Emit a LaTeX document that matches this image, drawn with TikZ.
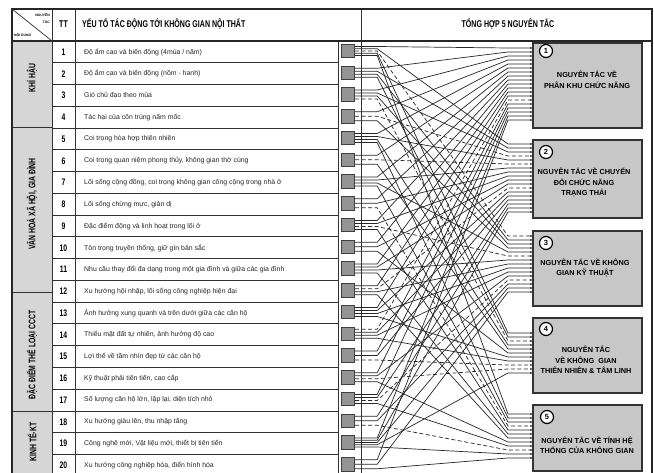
\documentclass[tikz,border=0pt]{standalone}
\usepackage{fontspec}
\setmainfont{Liberation Sans}
\newfontfamily\cond[FakeStretch=0.72]{Liberation Sans}
\usetikzlibrary{arrows.meta,calc}
\newcounter{bx1}\newcounter{bx2}\newcounter{bx3}\newcounter{bx4}\newcounter{bx5}
\begin{document}
\begin{tikzpicture}[x=1pt,y=-1pt,
  tblframe/.style={line width=1.1pt, draw=black!85},
  gridl/.style={line width=0.75pt, draw=black!80},
  rowtxt/.style={anchor=west, inner sep=0pt, text=black!85, font=\fontsize{6.9}{7.5}\selectfont},
  numtxt/.style={inner sep=0pt, font=\cond\bfseries\fontsize{9.5}{10}\selectfont},
  grplbl/.style={inner sep=0pt, rotate=90, font=\cond\bfseries\fontsize{9.5}{10}\selectfont},
  hdr/.style={inner sep=0pt, font=\cond\bfseries\fontsize{9.8}{10}\selectfont},
  tinytxt/.style={inner sep=0pt, font=\bfseries\fontsize{3.4}{4}\selectfont},
  sqbox/.style={draw=black!75, fill=black!42, line width=0.9pt, minimum size=13.5pt, inner sep=0pt},
  pbox/.style={draw=black!80, fill=black!22, line width=1.2pt, inner sep=0pt, outer sep=0pt},
  circ/.style={circle, draw=black, fill=white, line width=1.2pt, minimum size=13pt, inner sep=0pt, font=\bfseries\fontsize{7.5}{8}\selectfont},
  ptxt/.style={align=center, inner sep=0pt, font=\bfseries\fontsize{7.3}{10.5}\selectfont},
  conn/.style={line width=0.7pt, draw=black!85, -{Latex[length=2.6pt,width=2pt]}},
  dsh/.style={dash pattern=on 4pt off 2.5pt}
]
\useasboundingbox (0,0) rectangle (654,473);
\clip (0,0) rectangle (654,473);
\fill[white] (0,0) rectangle (654,473);

% group column fill
\fill[black!16] (12,41) rectangle (52,480);

% table grid
\foreach \kk in {1,...,19} {
  \draw[gridl] (52,{41.125+21.75*\kk}) -- (338,{41.125+21.75*\kk});
}
\draw[gridl] (12,127) -- (52,127);
\draw[gridl] (12,292) -- (52,292);
\draw[gridl] (12,411) -- (52,411);
\draw[gridl] (52,9) -- (52,480);
\draw[gridl] (75,9) -- (75,480);
\draw[gridl] (338,41) -- (338,480);
\draw[gridl] (361,9) -- (361,480);
\draw[tblframe] (12,41) -- (652,41);
\draw[tblframe] (12,480) -- (12,9) -- (652,9) -- (652,480);
\draw[gridl] (12,9) -- (52,41);

% header texts
\node[tinytxt, anchor=east] (hn1) at (50,14.5) {NGUYÊN};
\node[tinytxt, anchor=east] (hn2) at (50,22) {TẮC};
\node[tinytxt, anchor=west] (hn3) at (14,35) {NỘI DUNG};
\node[hdr] (htt) at (63.5,24) {TT};
\node[hdr, anchor=west] (hyt) at (82,24) {YẾU TỐ TÁC ĐỘNG TỚI KHÔNG GIAN NỘI THẤT};
\node[hdr] (hth) at (508,24) {TỔNG HỢP 5 NGUYÊN TẮC};

% group labels
\node[grplbl] (g1) at (32,78) {KHÍ HẬU};
\node[grplbl] (g2) at (32,204) {VĂN HOÁ XÃ HỘI, GIA ĐÌNH};
\node[grplbl] (g3) at (32,355) {ĐẶC ĐIỂM THỂ LOẠI CCCT};
\node[grplbl] (g4) at (32,442) {KINH TẾ-KT};

% rows
\foreach \ri/\rtxt in {
  1/{Độ ẩm cao và biến động (4mùa / năm)},
  2/{Độ ẩm cao và biến động (nồm - hanh)},
  3/{Gió chủ đạo theo mùa},
  4/{Tác hại của côn trùng nấm mốc},
  5/{Coi trọng hòa hợp thiên nhiên},
  6/{Coi trọng quan niệm phong thủy, không gian thờ cúng},
  7/{Lối sống cộng đồng, coi trọng không gian công cộng trong nhà ở},
  8/{Lối sống chừng mực, giản dị},
  9/{Đặc điểm động và linh hoạt trong lối ở},
  10/{Tôn trọng truyền thống, giữ gìn bản sắc},
  11/{Nhu cầu thay đổi đa dạng trong một gia đình và giữa các gia đình},
  12/{Xu hướng hội nhập, lối sống công nghiệp hiện đại},
  13/{Ảnh hưởng xung quanh và trên dưới giữa các căn hộ},
  14/{Thiếu mặt đất tự nhiên, ảnh hưởng độ cao},
  15/{Lợi thế về tầm nhìn đẹp từ các căn hộ},
  16/{Kỹ thuật phải tiên tiến, cao cấp},
  17/{Số lượng căn hộ lớn, lặp lại, diện tích nhỏ},
  18/{Xu hướng giàu lên, thu nhập tăng},
  19/{Công nghệ mới, Vật liệu mới, thiết bị tiên tiến},
  20/{Xu hướng công nghiệp hóa, điển hình hóa}} {
  \pgfmathsetmacro\yy{52+21.75*(\ri-1)}
  \node[numtxt] (n\ri) at (63.5,\yy) {\ri};
  \node[rowtxt] (r\ri) at (84,\yy) {\rtxt};
  \node[sqbox] (s\ri) at (348,\yy-1) {};
}

% principle boxes
\node[pbox, minimum width=109pt, minimum height=85pt, anchor=north west] (p1) at (533,43) {};
\node[pbox, minimum width=109pt, minimum height=78pt, anchor=north west] (p2) at (533,140) {};
\node[pbox, minimum width=109pt, minimum height=75pt, anchor=north west] (p3) at (533,231) {};
\node[pbox, minimum width=109pt, minimum height=75pt, anchor=north west] (p4) at (533,318) {};
\node[pbox, minimum width=109pt, minimum height=66pt, anchor=north west] (p5) at (533,405) {};

\node[circ] (c1) at ($(p1.north west)+(13,8)$) {1};
\node[circ] (c2) at ($(p2.north west)+(13,12)$) {2};
\node[circ] (c3) at ($(p3.north west)+(13,12)$) {3};
\node[circ] (c4) at ($(p4.north west)+(13,11)$) {4};
\node[circ] (c5) at ($(p5.north west)+(14,12)$) {5};

\node[ptxt] (t1) at (587,80) {NGUYÊN TẮC VỀ\\PHÂN KHU CHỨC NĂNG};
\node[ptxt] (t2) at (584,182.5) {NGUYÊN TẮC VỀ CHUYỂN\\ĐỔI CHỨC NĂNG\\TRẠNG THÁI};
\node[ptxt] (t3) at (585,268) {NGUYÊN TẮC VỀ KHÔNG\\GIAN KỸ THUẬT};
\node[ptxt] (t4) at (586,360) {NGUYÊN TẮC\\VỀ KHÔNG~~GIAN\\THIÊN NHIÊN \& TÂM LINH};
\node[ptxt] (t5) at (587,445.5) {NGUYÊN TẮC VỀ TÍNH HỆ\\THỐNG CỦA KHÔNG GIAN};

% connectors
\def\boffs{{5,4,5,15,9}}
\foreach \ri/\nn/\lst in {
  1/5/{1/0,2/0,3/1,4/0,5/0},
  2/4/{1/0,2/0,3/0,4/0},
  3/4/{1/0,2/0,3/0,4/1},
  4/3/{1/0,2/1,3/0},
  5/4/{1/0,2/0,4/0,5/0},
  6/3/{1/0,2/1,4/0},
  7/4/{1/0,2/0,3/0,5/0},
  8/3/{1/0,2/0,5/1},
  9/4/{1/0,2/0,3/1,5/0},
  10/3/{1/0,2/0,4/0},
  11/4/{1/0,2/0,3/0,5/0},
  12/4/{1/0,2/1,3/0,5/0},
  13/4/{1/0,2/0,3/0,4/0},
  14/4/{1/1,2/0,3/0,4/0},
  15/3/{1/0,2/0,4/1},
  16/4/{1/0,3/0,4/1,5/0},
  17/4/{1/0,2/0,3/1,5/0},
  18/3/{2/0,3/0,5/1},
  19/5/{1/0,2/0,3/0,4/0,5/0},
  20/3/{1/0,3/0,5/0}} {
  \foreach \bx/\dsh [count=\kk] in \lst {
    \stepcounter{bx\bx}
    \edef\cv{\number\value{bx\bx}}
    \pgfmathsetmacro\ys{-4.5+9*(\kk-1)/(\nn-1)}
    \pgfmathsetmacro\ye{\boffs[\bx-1]+4*(\cv-1)}
    \ifnum\dsh=1 \def\ls{dsh}\else\def\ls{solid}\fi
    \draw[conn,\ls] ($(s\ri.east)+(0,\ys)$) -- ++(22,0)
      -- ($(p\bx.north west)+(-25,\ye)$) -- ($(p\bx.north west)+(0,\ye)$);
  }
}
\end{tikzpicture}
\end{document}
